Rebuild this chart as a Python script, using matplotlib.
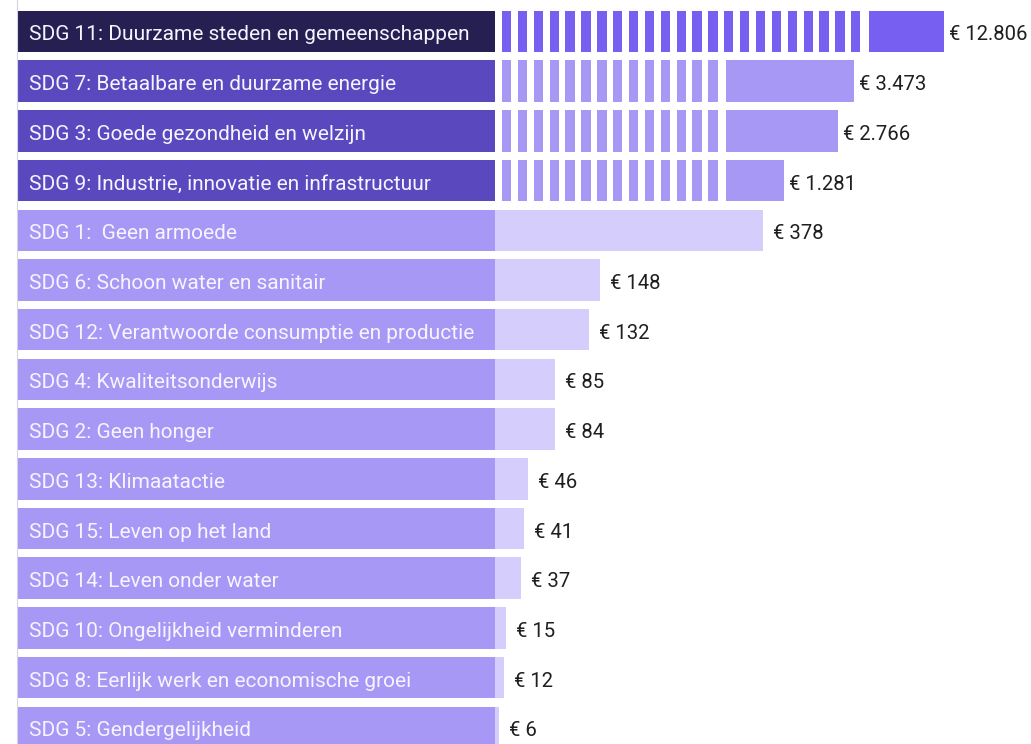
import numpy as np
import matplotlib.pyplot as plt

plt.rcParams["font.family"] = ["Roboto", "DejaVu Sans"]

labels = [
    "SDG 11: Duurzame steden en gemeenschappen",
    "SDG 7: Betaalbare en duurzame energie",
    "SDG 3: Goede gezondheid en welzijn",
    "SDG 9: Industrie, innovatie en infrastructuur",
    "SDG 1:  Geen armoede",
    "SDG 6: Schoon water en sanitair",
    "SDG 12: Verantwoorde consumptie en productie",
    "SDG 4: Kwaliteitsonderwijs",
    "SDG 2: Geen honger",
    "SDG 13: Klimaatactie",
    "SDG 15: Leven op het land",
    "SDG 14: Leven onder water",
    "SDG 10: Ongelijkheid verminderen",
    "SDG 8: Eerlijk werk en economische groei",
    "SDG 5: Gendergelijkheid",
]
values = [12806, 3473, 2766, 1281, 378, 148, 132, 85, 84, 46, 41, 37, 15, 12, 6]
value_labels = ["€ 12.806", "€ 3.473", "€ 2.766", "€ 1.281", "€ 378", "€ 148", "€ 132",
                "€ 85", "€ 84", "€ 46", "€ 41", "€ 37", "€ 15", "€ 12", "€ 6"]

# bars above this value are drawn on a broken (log-compressed) axis
BREAK_AT = 1000
BREAK_STRIPES = {0: 23}  # default 14 stripes for the other broken bars

W, H = 1031, 744
PX = 0.709  # pixels per euro on the linear part
ROW = 49.7
TOP = 31.5
BAR_H = 0.835
BASE = 9.0 / ROW  # text baseline below row centre

fig = plt.figure(figsize=(W / 100, H / 100), dpi=100)
ylim = ((H - TOP) / ROW, -TOP / ROW)

ax_lab = fig.add_axes([17 / W, 0, (495 - 17) / W, 1])
ax_bar = fig.add_axes([495 / W, 0, (W - 495) / W, 1])

n = len(values)
y = np.arange(n)


def label_color(i, v):
    if i == 0:
        return "#261f52"
    return "#5a49be" if v >= BREAK_AT else "#a798f6"


def bar_color(i, v):
    if i == 0:
        return "#775ff2"
    return "#a798f6" if v >= BREAK_AT else "#d5cdfb"


# label boxes
ax_lab.barh(y, [1] * n, left=0, height=BAR_H,
            color=[label_color(i, v) for i, v in enumerate(values)])
for i, lab in enumerate(labels):
    ax_lab.text(12 / 478, i + BASE, lab, ha="left", va="baseline", color="#f6f4ff",
                fontsize=15, transform=ax_lab.get_yaxis_transform())
ax_lab.set_xlim(0, 1)
ax_lab.set_ylim(*ylim)
for s in ["top", "right", "bottom"]:
    ax_lab.spines[s].set_visible(False)
ax_lab.spines["left"].set_color("#d6d3e6")
ax_lab.set_xticks([])
ax_lab.set_yticks([])

u = 1 / PX  # one pixel in data units
for i, v in enumerate(values):
    c = bar_color(i, v)
    if v >= BREAK_AT:
        end = (160 * np.log10(v) - 208) * u
        k = BREAK_STRIPES.get(i, 14)
        period = 15.87 * u
        lefts = 7 * u + period * np.arange(k)
        ax_bar.barh([i] * k, [9.3 * u] * k, left=lefts, height=BAR_H, color=c)
        solid_start = lefts[-1] + 9.3 * u + 8.5 * u
        ax_bar.barh(i, end - solid_start, left=solid_start, height=BAR_H, color=c)
    else:
        end = v
        ax_bar.barh(i, v, left=0, height=BAR_H, color=c)
    gap = 5 * u if v >= BREAK_AT else 10 * u
    ax_bar.text(end + gap, i + BASE, value_labels[i], ha="left", va="baseline",
                color="#1f1f1f", fontsize=14.6)

ax_bar.set_xlim(0, (W - 495) * u)
ax_bar.set_ylim(*ylim)
ax_bar.axis("off")

fig.savefig("out.png", dpi=100, facecolor="white")
